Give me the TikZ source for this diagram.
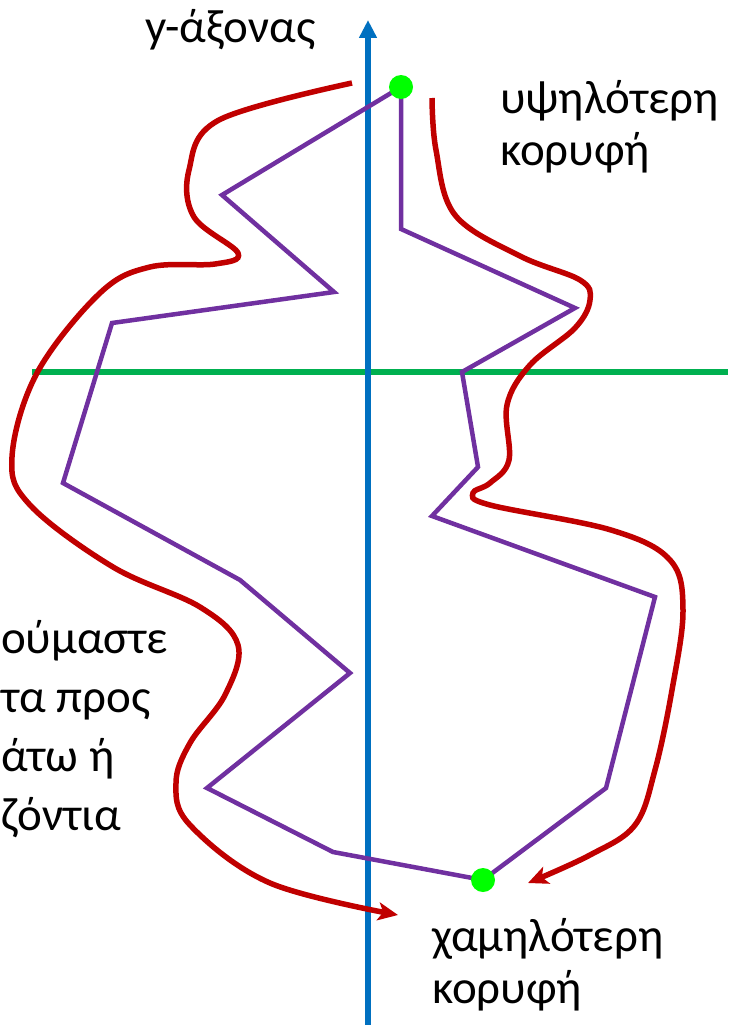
\documentclass[tikz,border=0pt]{standalone}
\usepackage{fontspec}
\setmainfont{Carlito}
\usetikzlibrary{arrows.meta}
\definecolor{bleuaxe}{RGB}{0,112,192}
\definecolor{vertaxe}{RGB}{0,176,80}
\definecolor{violet}{RGB}{112,48,160}
\definecolor{rouge}{RGB}{192,0,0}
\definecolor{vertpoint}{RGB}{0,255,0}

\def\taille{47}

\begin{document}
\begin{tikzpicture}[x=1pt,y=-1pt]
\tikzstyle{sommet}=[circle,fill=vertpoint,inner sep=0pt,minimum size=24pt]
\tikzstyle{texte}=[font=\fontsize{\taille}{52}\selectfont,align=left,inner sep=0pt]
\tikzstyle{poly}=[violet,line width=4.5pt,line join=miter]
\tikzstyle{chemin}=[rouge,line width=5.5pt,-{Stealth[length=20pt,width=18pt,inset=5pt]}]
\tikzstyle{axe}=[line width=6pt]

\useasboundingbox (0,0) rectangle (728,1025);

% axes
\coordinate (xg) at (32,372);
\coordinate (xd) at (728,372);
\coordinate (yb) at (368,1025);
\coordinate (yh) at (368,20);
\draw[axe,vertaxe] (xg) -- (xd);
\draw[axe,bleuaxe,-{Triangle[length=18pt,width=17pt]}] (yb) -- (yh);

% polygone
\coordinate (t) at (401,87);
\coordinate (b) at (483,880);
\draw[poly] (t) -- (401,229) -- (575,308) -- (462,372) -- (478,467) -- (432,516)
  -- (655,597) -- (606,788) -- (b) -- (333,852) -- (207,788) -- (350,673)
  -- (240,580) -- (63,483) -- (112,323) -- (334,292) -- (222,195) -- cycle;

% chemins rouges
\draw[chemin] plot[smooth,tension=0.6] coordinates {(352,83) (219,120) (189,170)
  (194,217) (238,253) (215,264) (150,267) (100,293) (37,373) (12,457) (30,505)
  (113,567) (200,607) (238,645) (225,695) (190,743) (176,783) (190,825) (270,883)
  (398,915)};
\draw[chemin] plot[smooth,tension=0.6] coordinates {(432,98) (436,150) (455,215)
  (520,256) (580,280) (590,300) (575,328) (530,365) (507,405) (509,460) (490,483)
  (473,493) (490,505) (611,530) (670,560) (683,610) (672,690) (655,770) (635,825)
  (590,855) (528,883)};

% sommets
\node[sommet] (haut) at (t) {};
\node[sommet] (bas) at (b) {};

% textes
\node[texte,anchor=base west] (axey) at (145,43) {y-άξονας};
\node[texte,anchor=base west] (lhaut) at (500,165) {υψηλότερη\\κορυφή};
\node[texte,anchor=base west] (lbas) at (432,1003) {χαμηλότερη\\κορυφή};
\node[texte,anchor=base west,font=\fontsize{\taille}{59}\selectfont] (regle) at (1,830) {ούμαστε\\τα προς\\άτω ή\\ζόντια};

\end{tikzpicture}
\end{document}
